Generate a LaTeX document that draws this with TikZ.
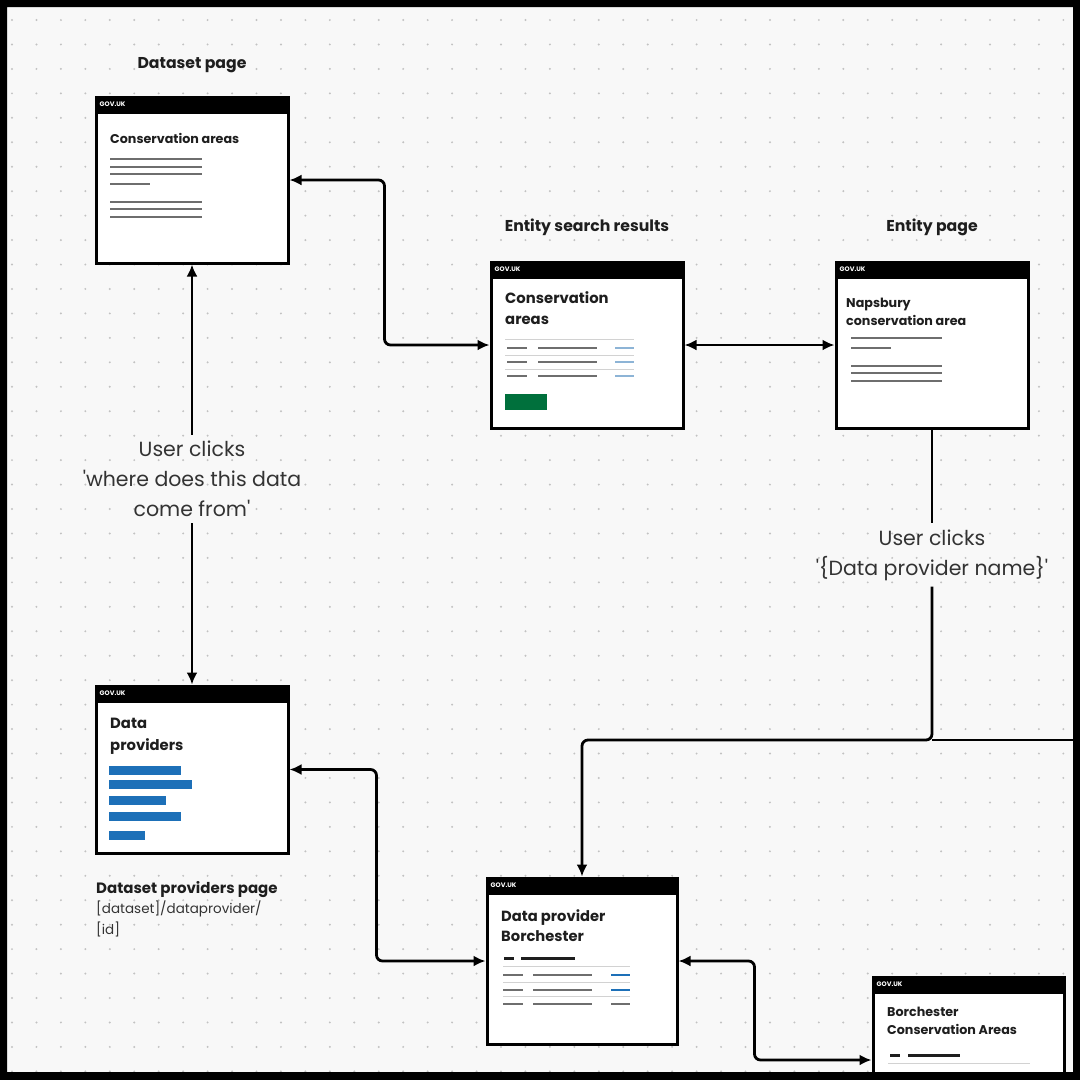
\documentclass[tikz,border=0pt]{standalone}
\usepackage{fontspec}
\setmainfont{Poppins}
\usetikzlibrary{shapes, arrows.meta, fit}
\usetikzlibrary{positioning}
\definecolor{bgc}{HTML}{F8F8F8}
\definecolor{dotc}{HTML}{C2C2C2}
\definecolor{inkc}{HTML}{1E1E1E}
\definecolor{txtc}{HTML}{333333}
\definecolor{lnc}{HTML}{6E6E6E}
\definecolor{sepc}{HTML}{D2D2D2}
\definecolor{govblue}{HTML}{1D70B8}
\definecolor{paleblue}{HTML}{8DB4D6}
\definecolor{govgreen}{HTML}{00703C}

\tikzset{
  pagebox/.style={draw=black, fill=white, line width=3pt, minimum width=192pt, minimum height=166pt, inner sep=0pt},
  gvhead/.style={font=\fontsize{6.5}{7}\selectfont\bfseries, text=white, inner sep=0pt, anchor=west},
  pgtitle/.style={text=inkc, inner sep=0pt, anchor=north west, align=left},
  pgcaption/.style={font=\fontsize{15.7}{16}\selectfont\bfseries, text=inkc, inner sep=0pt},
  clicklabel/.style={font=\fontsize{20.5}{30}\selectfont, text=txtc, align=center, inner sep=6pt},
  flow/.style={line width=2.8pt, rounded corners=6pt, >={Latex[length=12pt,width=11pt]}},
  greyline/.style={lnc, line width=2pt},
  sepline/.style={sepc, line width=1pt},
}

\begin{document}
\begin{tikzpicture}[x=1pt, y=-1pt]
\useasboundingbox (0,0) rectangle (1080,1080);
\fill[bgc] (0,0) rectangle (1080,1080);
\foreach \i in {0,...,43}
  \foreach \j in {0,...,43}
    \fill[dotc] (12+24.45*\i, 20+24.45*\j) circle (1.1pt);

\node[pagebox] (dsp) at (192,180) {};
\node[pagebox] (esr) at (587,345) {};
\node[pagebox] (ent) at (932,345) {};
\node[pagebox, minimum height=167pt] (dpp) at (192,769.5) {};
\node[pagebox, minimum width=190pt] (dpb) at (582,961) {};
\node[pagebox, minimum width=191pt] (bca) at (968.5,1060) {};

\foreach \p in {dsp,esr,ent,dpp,dpb,bca} {
  \fill[black] (\p.north west) rectangle ([yshift=-18pt]\p.north east);
  \node[gvhead] (\p-gov) at ([xshift=5pt,yshift=-9pt]\p.north west) {GOV.UK};
}

\node[pgtitle, font=\fontsize{12.7}{16}\selectfont\bfseries] (dsp-t) at (110,133) {Conservation areas};
\foreach \y in {159,167,174,202,209,217}
  \draw[greyline] (110,\y) -- (202,\y);
\draw[greyline] (110,184) -- (150,184);

\node[pgtitle, font=\fontsize{14.8}{21}\selectfont\bfseries] (esr-t) at (505,291) {Conservation\\areas};
\draw[sepline] (505,339) -- (634,339);
\foreach \y in {348,362,376} {
  \draw[greyline] (507,\y) -- (527,\y);
  \draw[greyline] (538,\y) -- (597,\y);
  \draw[paleblue, line width=2pt] (615,\y) -- (634,\y);
}
\foreach \y in {355,369}
  \draw[sepline] (505,\y) -- (634,\y);
\fill[govgreen] (505,394) rectangle (547,410);

\node[pgtitle, font=\fontsize{12.7}{17.5}\selectfont\bfseries] (ent-t) at (846,298) {Napsbury\\conservation area};
\draw[greyline] (851,338) -- (942,338);
\draw[greyline] (851,348) -- (891,348);
\foreach \y in {366,373,381}
  \draw[greyline] (851,\y) -- (942,\y);

\node[pgtitle, font=\fontsize{14.8}{22}\selectfont\bfseries] (dpp-t) at (110,718) {Data\\providers};
\foreach \w/\y in {181/770,192/784,166/800,181/816,145/835}
  \fill[govblue] (109,\y-4.5) rectangle (\w,\y+4.5);

\node[pgtitle, font=\fontsize{14.7}{20}\selectfont\bfseries] (dpb-t) at (501,910) {Data provider\\Borchester};
\draw[inkc, line width=3pt] (504,958) -- (514,958);
\draw[inkc, line width=3pt] (521,958) -- (575,958);
\draw[sepline] (503,966) -- (630,966);
\foreach \y/\c in {975/govblue,990/govblue,1004/lnc} {
  \draw[greyline] (503,\y) -- (523,\y);
  \draw[greyline] (533,\y) -- (592,\y);
  \draw[\c, line width=2.4pt] (611,\y) -- (630,\y);
}
\foreach \y in {982,996}
  \draw[sepline] (503,\y) -- (630,\y);

\node[pgtitle, font=\fontsize{12.7}{18}\selectfont\bfseries] (bca-t) at (887,1007) {Borchester\\Conservation Areas};
\draw[inkc, line width=3pt] (890,1055) -- (900,1055);
\draw[inkc, line width=3pt] (908,1055) -- (960,1055);
\draw[sepline] (888,1063) -- (1030,1063);

\node[pgcaption] (dsp-c) at (192,65) {Dataset page};
\node[pgcaption] (esr-c) at (587,227) {Entity search results};
\node[pgcaption] (ent-c) at (932,227) {Entity page};
\node[pgtitle, font=\fontsize{13.5}{20.5}\selectfont, text=txtc] (dpp-c) at (96,881)
  {{\fontsize{15}{20.5}\selectfont\bfseries\color{inkc}Dataset providers page}\\{}[dataset]/dataprovider/\\{}[id]};

\node[clicklabel] (clka) at (192,479) {User clicks\\\textquotesingle where does this data\\come from\textquotesingle};
\node[clicklabel] (clkb) at (932,555) {User clicks\\\textquotesingle\{Data provider name\}\textquotesingle};
\coordinate (fork) at (932,740);
\coordinate (offr) at (1080,740);

\draw[flow, <->] (dsp.east) -- ++(95,0) |- (esr.west);
\draw[flow, <->] (esr.east) -- (ent.west);
\draw[flow, <-] (dsp.south) -- (clka.north);
\draw[flow, ->] (clka.south) -- (dpp.north);
\draw[flow] (ent.south) -- (clkb.north);
\draw[flow, ->] (clkb.south) -- (fork) -| (dpb.north);
\draw[flow] (fork) -- (offr);
\draw[flow, <->] (dpp.east) -- ++(87,0) |- (dpb.west);
\draw[flow, <->] (dpb.east) -- ++(76,0) |- (bca.west);

\fill[black, even odd rule] (0,0) rectangle (1080,1080) (7,7) rectangle (1073,1072);
\end{tikzpicture}
\end{document}
